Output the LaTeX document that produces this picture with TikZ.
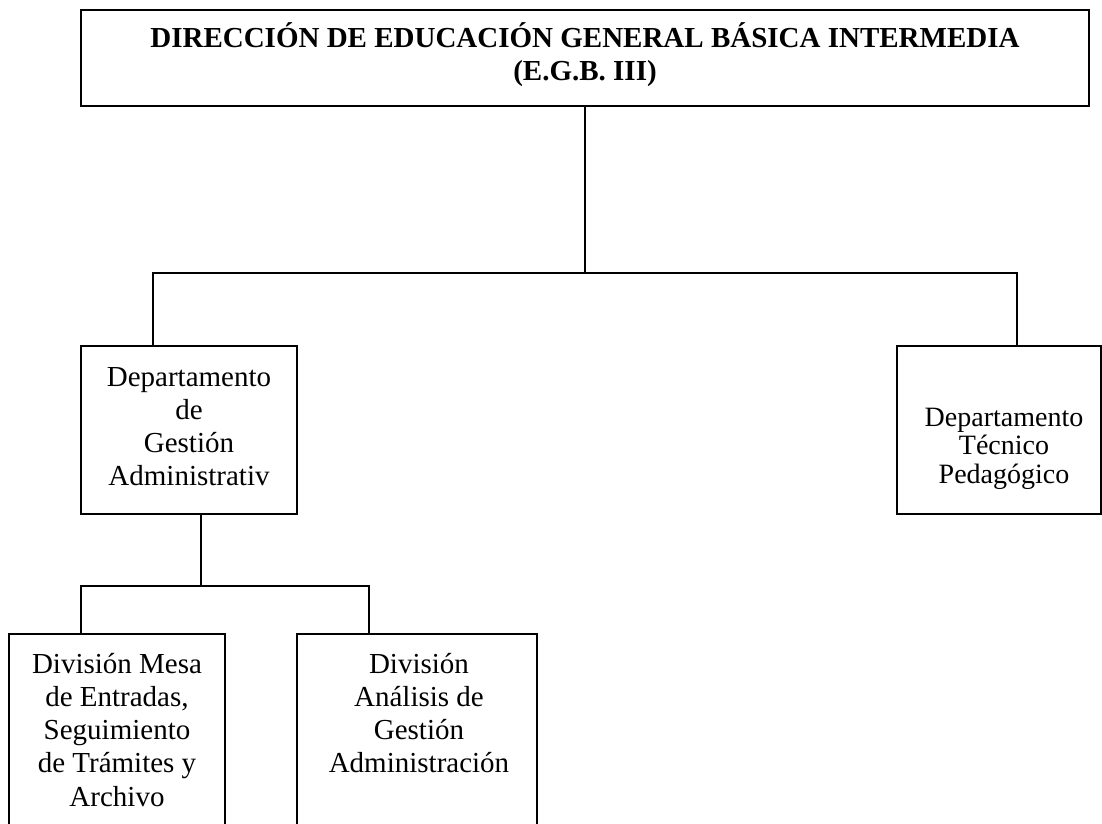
\documentclass[tikz,border=0pt]{standalone}
\usepackage{fontspec}
\setmainfont{Liberation Serif}
% centred stack of lines whose baseline is that of the first line
\newcommand\linesstack[1]{\vtop{\lineskiplimit=-100pt\lineskip=0pt\halign{\hfil##\hfil\cr#1\crcr}}}
\begin{document}
\begin{tikzpicture}[x=1pt,y=-1pt,
  orgbox/.style={draw=black, line width=1.7pt, fill=white, inner sep=0pt, outer sep=0pt},
  boxtext/.style={anchor=base, inner sep=0pt, outer sep=0pt, font=\fontsize{29}{33.3}\selectfont},
  link/.style={draw=black, line width=1.7pt}]
\useasboundingbox (0,0) rectangle (1102,823);
\clip (0,0) rectangle (1102,823);

% boxes
\node[orgbox, minimum width=1008pt, minimum height=96pt] (dir) at (585,58) {};
\node[orgbox, minimum width=216pt, minimum height=168pt] (dga) at (189,430) {};
\node[orgbox, minimum width=204pt, minimum height=168pt] (dtp) at (999,430) {};
\node[orgbox, minimum width=216pt, minimum height=206pt] (dme) at (117,737) {};
\node[orgbox, minimum width=240pt, minimum height=206pt] (dag) at (417,737) {};

% box texts
\node[boxtext, font=\bfseries\fontsize{29}{33}\selectfont] (tdir) at (585,47)
  {\linesstack{DIRECCIÓN DE EDUCACIÓN GENERAL BÁSICA INTERMEDIA\cr (E.G.B. III)}};
\node[boxtext] (tdga) at (189,386)
  {\linesstack{Departamento\cr de\cr Gestión\cr Administrativ}};
\node[boxtext, font=\fontsize{28}{28.5}\selectfont] (tdtp) at (1004,426)
  {\linesstack{Departamento\cr Técnico\cr Pedagógico}};
\node[boxtext] (tdme) at (117,673)
  {\linesstack{División Mesa\cr de Entradas,\cr Seguimiento\cr de Trámites y\cr Archivo}};
\node[boxtext] (tdag) at (419,673)
  {\linesstack{División\cr Análisis de\cr Gestión\cr Administración}};

% connectors
\draw[link] (dir.south) -- ++(0,167) -| ([xshift=-36pt]dga.north);
\draw[link] (dir.south) -- ++(0,167) -| ([xshift=18pt]dtp.north);
\draw[link] ([xshift=12pt]dga.south) -- ++(0,72) -| ([xshift=-36pt]dme.north);
\draw[link] ([xshift=12pt]dga.south) -- ++(0,72) -| ([xshift=-48pt]dag.north);
\end{tikzpicture}
\end{document}
